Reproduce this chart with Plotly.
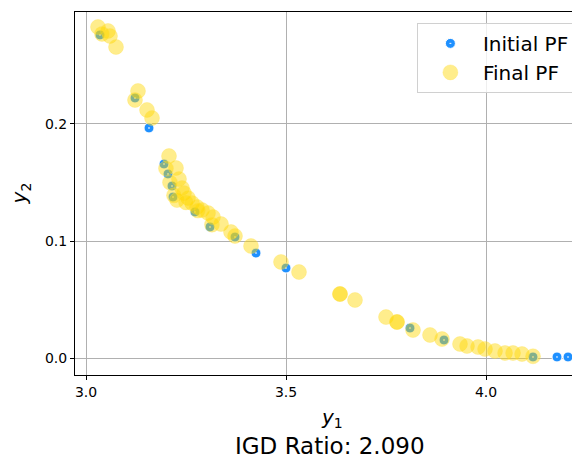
import plotly.graph_objects as go

# Initial Pareto front (blue)
init_y1 = [3.035, 3.1225, 3.1575, 3.195, 3.205, 3.215, 3.2175, 3.2725, 3.31, 3.3725,
           3.425, 3.5, 3.81, 3.895, 4.1175, 4.1775, 4.205]
init_y2 = [0.2761, 0.2222, 0.1966, 0.1658, 0.1573, 0.1470, 0.1376, 0.1248, 0.1120, 0.1034,
           0.0897, 0.0769, 0.0256, 0.0154, 0.0009, 0.0009, 0.0009]

# Final Pareto front (gold)
final_y1 = [3.03, 3.055, 3.06, 3.075, 3.04, 3.13, 3.1225, 3.1525, 3.165,
            3.2075, 3.225, 3.2325, 3.24, 3.245, 3.255, 3.265, 3.2775, 3.29, 3.305,
            3.3175, 3.3375, 3.3625, 3.3725, 3.4125, 3.4875, 3.5325, 3.635,
            3.635, 3.6725, 3.75, 3.7775, 3.7775, 3.8175, 3.86, 3.89, 3.935,
            3.9525, 3.98, 3.9975, 4.0225, 4.0475, 4.0675, 4.09, 4.1175,
            3.2, 3.21, 3.22, 3.2275, 3.25, 3.28, 3.315]
final_y2 = [0.2829, 0.2795, 0.2752, 0.2658, 0.2770, 0.2282, 0.2205, 0.2120, 0.2051,
            0.1726, 0.1624, 0.1530, 0.1453, 0.1410, 0.1368, 0.1325, 0.1291, 0.1265, 0.1239,
            0.1205, 0.1145, 0.1077, 0.1043, 0.0957, 0.0821, 0.0735, 0.0547,
            0.0547, 0.0496, 0.0350, 0.0308, 0.0308, 0.0239, 0.0197, 0.0162, 0.0120,
            0.0103, 0.0094, 0.0077, 0.0060, 0.0043, 0.0043, 0.0034, 0.0015,
            0.1620, 0.1500, 0.1390, 0.1350, 0.1330, 0.1260, 0.1140]

x_ticks = [3.0, 3.5, 4.0]
y_ticks = [0.0, 0.1, 0.2]
igd_ratio = 2.090

FONT = "DejaVu Sans"

fig = go.Figure()
fig.add_trace(go.Scatter(
    x=init_y1, y=init_y2, mode="markers", name="Initial PF",
    marker=dict(color="rgb(30,144,255)", size=10, symbol="circle-dot",
                line=dict(color="white", width=1)),
    legendrank=1,
))
fig.add_trace(go.Scatter(
    x=final_y1, y=final_y2, mode="markers", name="Final PF",
    marker=dict(color="rgba(255,215,0,0.45)", size=15,
                line=dict(color="rgba(255,225,80,0.3)", width=1)),
    legendrank=2,
))

# page body has an 8px default margin; figure is sized/offset to compensate
fig.update_layout(
    width=572, height=451,
    margin=dict(l=67, r=0, t=4, b=84),
    paper_bgcolor="white", plot_bgcolor="white",
    font=dict(family=FONT, color="black", size=14),
    showlegend=True,
    legend=dict(
        x=0.677, y=0.97, xanchor="left", yanchor="top",
        bgcolor="rgba(255,255,255,0.8)", bordercolor="#d0d0d0", borderwidth=1,
        font=dict(size=20, family=FONT), itemwidth=55, tracegroupgap=0,
    ),
    xaxis=dict(
        range=[2.9725, 4.235], tickvals=x_ticks, ticktext=[f"{v:.1f}" for v in x_ticks],
        showgrid=True, gridcolor="#b0b0b0", gridwidth=1,
        showline=True, linecolor="black", linewidth=1, mirror=True,
        ticks="outside", ticklen=4, tickcolor="black", zeroline=False,
        tickfont=dict(size=14),
    ),
    yaxis=dict(
        range=[-0.0145, 0.2957], tickvals=y_ticks, ticktext=[f"{v:.1f}" for v in y_ticks],
        showgrid=True, gridcolor="#b0b0b0", gridwidth=1,
        showline=True, linecolor="black", linewidth=1, mirror=False,
        ticks="outside", ticklen=4, tickcolor="black", zeroline=False,
        tickfont=dict(size=14),
    ),
    annotations=[
        dict(text="<i>y</i><sub>1</sub>", xref="paper", yref="paper", x=0.509, y=-0.118,
             xanchor="center", yanchor="middle", showarrow=False, font=dict(size=20, family=FONT)),
        dict(text="<i>y</i><sub>2</sub>", xref="paper", yref="paper", x=-0.109, y=0.5,
             xanchor="center", yanchor="middle", showarrow=False, textangle=-90,
             font=dict(size=20, family=FONT)),
        dict(text=f"IGD Ratio: {igd_ratio:.3f}", xref="paper", yref="paper", x=0.505, y=-0.196,
             xanchor="center", yanchor="middle", showarrow=False, font=dict(size=23, family=FONT)),
    ],
)

fig.write_html("out.html")
